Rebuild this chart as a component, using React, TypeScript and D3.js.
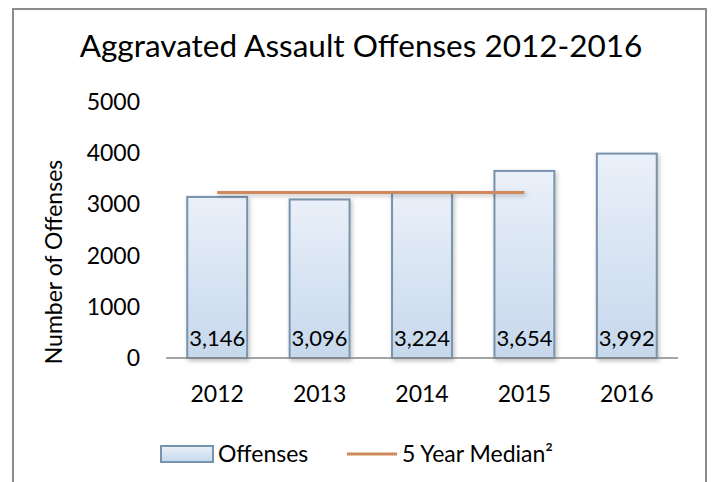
import React from "react";
import * as d3 from "d3";

const years = ["2012", "2013", "2014", "2015", "2016"];
const offenses = [3146, 3096, 3224, 3654, 3992];
const median = [3230, 3230, 3230, 3230, null];
const yTicks = [0, 1000, 2000, 3000, 4000, 5000];
const title = "Aggravated Assault Offenses 2012-2016";
const yTitle = "Number of Offenses";
const legendBar = "Offenses";
const legendLine = "5 Year Median²";

const W = 712;
const H = 482;
const FONT = "Lato, 'Open Sans', sans-serif";

export default function App() {
  const x = d3.scaleBand<string>().domain(years).range([166, 678]).paddingInner(0.415).paddingOuter(0.2075);
  const y = d3.scaleLinear().domain([0, 5000]).range([358, 102]);
  const fmt = d3.format(",");
  const cx = (yr: string) => (x(yr) as number) + x.bandwidth() / 2;
  const line = d3
    .line<number | null>()
    .defined((d) => d != null)
    .x((_, i) => cx(years[i]))
    .y((d) => y(d as number));

  return (
    <svg width={W} height={H} style={{ position: "absolute", left: 0, top: 0, background: "#fff" }} fontFamily={FONT}>
      <defs>
        <linearGradient id="barGrad" x1="0" y1="0" x2="0" y2="1">
          <stop offset="0%" stopColor="#eaf0f9" />
          <stop offset="100%" stopColor="#c6d8ec" />
        </linearGradient>
        <filter id="shadow" filterUnits="userSpaceOnUse" x="0" y="0" width={W} height={H}>
          <feDropShadow dx="1.5" dy="2" stdDeviation="2" floodColor="#000" floodOpacity="0.25" />
        </filter>
      </defs>
      <rect x={13} y={9} width={693} height={520} fill="#fff" stroke="#8c8c8c" strokeWidth={2} />
      <text x={361} y={57} textAnchor="middle" fontSize={31.5} fill="#000">{title}</text>

      {yTicks.map((t) => (
        <text key={t} x={140} y={y(t)} dy="0.35em" textAnchor="end" fontSize={23} fill="#000">{t}</text>
      ))}
      <text transform={`translate(62,262) rotate(-90)`} textAnchor="middle" fontSize={23} fill="#000">{yTitle}</text>

      {years.map((yr, i) => (
        <rect
          key={yr}
          x={x(yr)}
          y={y(offenses[i])}
          width={x.bandwidth()}
          height={y(0) - y(offenses[i])}
          fill="url(#barGrad)"
          stroke="#7893ad"
          strokeWidth={2}
          filter="url(#shadow)"
        />
      ))}
      <line x1={166} x2={678} y1={y(0)} y2={y(0)} stroke="#868686" strokeWidth={1.5} />
      <path d={line(median) || ""} fill="none" stroke="#d0895a" strokeWidth={3} filter="url(#shadow)" />
      {years.map((yr, i) => (
        <text key={yr} x={cx(yr)} y={346} textAnchor="middle" fontSize={22} fill="#000">{fmt(offenses[i])}</text>
      ))}
      {years.map((yr) => (
        <text key={yr} x={cx(yr)} y={394} dy="0.35em" textAnchor="middle" fontSize={23} fill="#000">{yr}</text>
      ))}

      <g>
        <rect x={161} y={446} width={52} height={16} fill="url(#barGrad)" stroke="#7893ad" strokeWidth={2} />
        <text x={218} y={454} dy="0.35em" fontSize={23} fill="#000">{legendBar}</text>
        <line x1={347} x2={397} y1={454} y2={454} stroke="#d0895a" strokeWidth={3} />
        <text x={402} y={454} dy="0.35em" fontSize={23} fill="#000">{legendLine}</text>
      </g>
    </svg>
  );
}
